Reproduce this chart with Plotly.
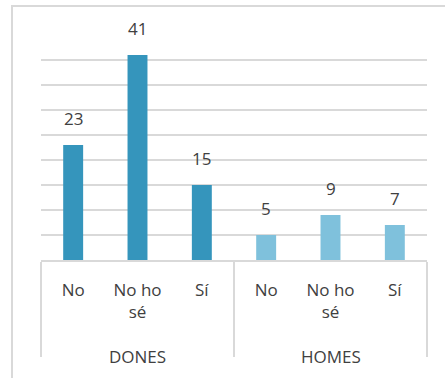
import plotly.graph_objects as go

groups = ["DONES", "DONES", "DONES", "HOMES", "HOMES", "HOMES"]
answers = ["No", "No ho<br>sé", "Sí", "No", "No ho<br>sé", "Sí"]
values = [23, 41, 15, 5, 9, 7]
group_colors = {"DONES": "#3595BC", "HOMES": "#7FC1DC"}

colors = [group_colors[g] for g in groups]
text_color = "#404040"
grid_color = "#D9D9D9"
font_family = "Open Sans, Noto Sans, sans-serif"

# outer axis level keeps the group structure (dividers); its text is blank,
# the visible group names are placed as annotations below
group_order = list(dict.fromkeys(groups))
blank = {g: "<br>" + "\u00a0" * (i + 1) for i, g in enumerate(group_order)}
outer = [blank[g] for g in groups]

fig = go.Figure()
fig.add_trace(go.Bar(
    x=[outer, answers],
    y=values,
    marker=dict(color=colors, line=dict(width=0)),
    hoverinfo="skip",
))

for o, a, v in zip(outer, answers, values):
    fig.add_annotation(
        x=[o, a], y=v, xref="x", yref="y",
        text=str(v), showarrow=False, yanchor="bottom", yshift=13,
        font=dict(size=17, color=text_color, family=font_family),
    )

for g in group_order:
    members = [a for gg, a in zip(groups, answers) if gg == g]
    mid = members[len(members) // 2]
    fig.add_annotation(
        x=[blank[g], mid], y=-0.4267, xref="x", yref="paper",
        text=g, showarrow=False, yanchor="middle",
        font=dict(size=17, color=text_color, family=font_family),
    )

fig.add_shape(
    type="rect", xref="paper", yref="paper",
    x0=-0.0751, x1=1.3, y0=-1.0, y1=1.1289,
    line=dict(color=grid_color, width=2), fillcolor="rgba(0,0,0,0)",
    layer="below",
)

fig.update_layout(
    width=445, height=378,
    margin=dict(l=41, r=18, t=35, b=118),
    paper_bgcolor="white", plot_bgcolor="white",
    bargap=0.69,
    showlegend=False,
    font=dict(family=font_family, size=17, color=text_color),
)
fig.update_yaxes(
    range=[0, 45], dtick=5, showgrid=True, gridcolor=grid_color, gridwidth=1.5,
    showticklabels=False, zeroline=False, showline=False, ticks="",
    automargin=False,
)
fig.update_xaxes(
    type="multicategory", showline=True, linecolor=grid_color, linewidth=1.5,
    showdividers=True, dividercolor=grid_color, dividerwidth=1.5,
    tickfont=dict(size=17, color=text_color, family=font_family),
    ticks="", automargin=False, ticklabelstandoff=14,
)

fig.write_html(
    "out.html",
    config={"displayModeBar": False},
    post_script="document.body.style.margin='0';",
)
